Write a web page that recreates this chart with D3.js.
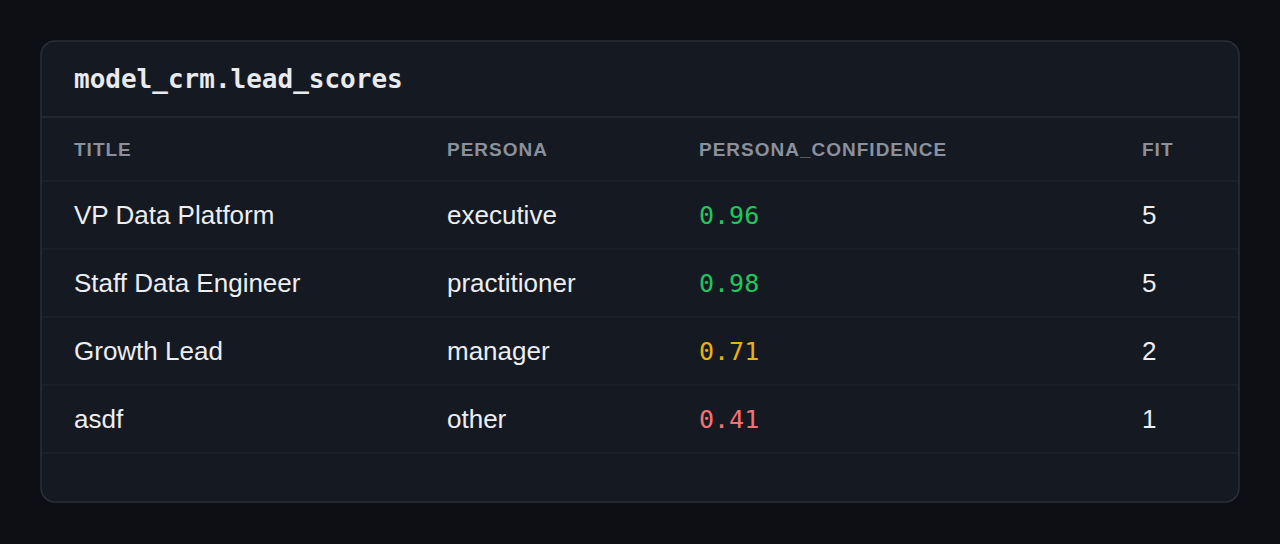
<!DOCTYPE html>
<html><head><meta charset="utf-8">
<script src="https://cdn.jsdelivr.net/npm/d3@7"></script>
<style>body{margin:0;background:#0d0f14;}</style>
</head><body>
<script>
var width = 1280, height = 544;
var tableName = 'model_crm.lead_scores';
var columns = ['TITLE', 'PERSONA', 'PERSONA_CONFIDENCE', 'FIT'];
var titles = ['VP Data Platform', 'Staff Data Engineer', 'Growth Lead', 'asdf'];
var personas = ['executive', 'practitioner', 'manager', 'other'];
var confidence = [0.96, 0.98, 0.71, 0.41];
var fit = [5, 5, 2, 1];

var svg = d3.select('body').append('svg').attr('width', width).attr('height', height);
svg.append('rect').attr('width', width).attr('height', height).attr('fill', '#0d0f14');

// card
svg.append('rect').attr('x', 41).attr('y', 41).attr('width', 1198).attr('height', 461)
	.attr('rx', 14).attr('fill', '#151922').attr('stroke', '#2a2f3a').attr('stroke-width', 1.5);
svg.append('text').attr('x', 74).attr('y', 88)
	.attr('font-family', 'DejaVu Sans Mono').attr('font-weight', 'bold').attr('font-size', 26)
	.attr('fill', '#e8eaee').text(tableName);
svg.append('line').attr('x1', 42).attr('x2', 1238).attr('y1', 117).attr('y2', 117)
	.attr('stroke', '#262b36').attr('stroke-width', 1.5);

var xScale = d3.scaleOrdinal().domain(columns).range([74, 447, 699, 1142]);
var headY = 149; // header band 117..181
var yScale = d3.scaleBand().domain(titles).range([181, 453]);

columns.forEach(function(c) {
	svg.append('text').attr('x', xScale(c)).attr('y', headY)
		.attr('dy', '0.35em').attr('font-family', 'Liberation Sans, Arial').attr('font-size', 19)
		.attr('font-weight', 'bold').attr('letter-spacing', 1).attr('fill', '#8a909c').text(c);
});

var rows = svg.selectAll('.row').data(titles).enter().append('g')
	.attr('transform', d => 'translate(0,' + yScale(d) + ')');
rows.append('line').attr('x1', 42).attr('x2', 1238).attr('y1', 0).attr('y2', 0)
	.attr('stroke', '#222732').attr('stroke-width', 1.2);
rows.filter((d, i) => i == titles.length - 1).append('line').attr('x1', 42).attr('x2', 1238)
	.attr('y1', yScale.bandwidth()).attr('y2', yScale.bandwidth()).attr('stroke', '#222732').attr('stroke-width', 1.2);

function cell(g, col, txt, opts) {
	g.append('text').attr('x', xScale(col)).attr('y', yScale.bandwidth()/2).attr('dy', '0.35em')
		.attr('font-family', opts.mono ? 'DejaVu Sans Mono' : 'Liberation Sans, Arial')
		.attr('font-size', opts.mono ? 25 : 26).attr('fill', opts.color || '#eceef2').text(txt);
}
function confColor(v) { return v >= 0.9 ? '#22c55e' : v >= 0.6 ? '#eab308' : '#f87171'; }

rows.each(function(d, i) {
	var g = d3.select(this);
	cell(g, 'TITLE', d, {});
	cell(g, 'PERSONA', personas[i], {});
	cell(g, 'PERSONA_CONFIDENCE', confidence[i].toFixed(2), {mono: true, color: confColor(confidence[i])});
	cell(g, 'FIT', fit[i], {});
});
</script>
</body></html>
